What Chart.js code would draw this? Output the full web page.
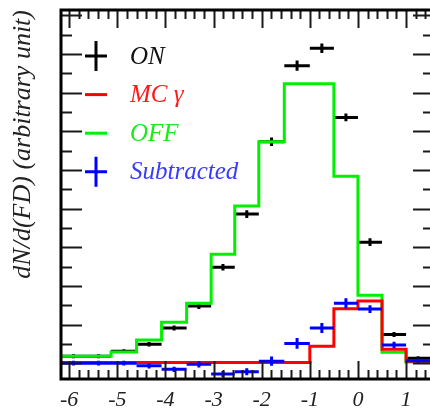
<!DOCTYPE html>
<html>
<head>
<meta charset="utf-8">
<script src="https://cdn.jsdelivr.net/npm/chart.js@4"></script>
<style>
  html, body { margin: 0; padding: 0; background: #fff; overflow: hidden; }
  canvas { display: block; }
</style>
</head>
<body>
<canvas id="fd" width="445" height="413"></canvas>
<script>
// bin edges of the FD histogram
const binEdges = [-6.17, -5.65, -5.13, -4.6, -4.08, -3.56, -3.05, -2.56, -2.06, -1.53, -1.0, -0.5, 0, 0.5, 1.0, 1.5];

// ON data (points with errors)
const onValues = [0.18, 0.18, 0.31, 0.49, 0.91, 1.48, 2.48, 3.86, 5.73, 7.70, 8.15, 6.36, 3.13, 0.74, 0.13];
const onErrors = [0.05, 0.05, 0.05, 0.06, 0.065, 0.08, 0.085, 0.1, 0.11, 0.13, 0.12, 0.1, 0.1, 0.065, 0.05];

// OFF histogram
const offValues = [0.18, 0.18, 0.29, 0.60, 1.06, 1.55, 2.82, 4.07, 5.73, 7.23, 7.23, 4.84, 1.76, 0.28, 0.03];

// MC gamma histogram
const mcValues = [0.02, 0.02, 0.02, 0.02, 0.02, 0.02, 0.02, 0.02, 0.02, 0.02, 0.44, 1.41, 1.61, 0.36, 0.05];

// ON - OFF
const subValues = [0.0, 0.0, 0.0, -0.07, -0.16, -0.03, -0.28, -0.22, 0.05, 0.51, 0.91, 1.55, 1.40, 0.47, 0.06];
const subErrors = [0.06, 0.06, 0.06, 0.07, 0.07, 0.08, 0.08, 0.09, 0.12, 0.14, 0.13, 0.13, 0.1, 0.085, 0.06];

const xTickValues = [-6, -5, -4, -3, -2, -1, 0, 1];
const xMin = -6.17, xMax = 1.58;
const yMin = -0.41, yMax = 9.14;

const seriesNames = ["ON", "MC \u03b3", "OFF", "Subtracted"];
const seriesColors = ["#000000", "#ff0000", "#00f000", "#0000ff"];
const seriesTextColors = ["#111111", "#ff1a1a", "#1ee81e", "#3a3aff"];
const seriesCrossed = [true, false, false, true];

const yTitle = "dN/d(FD) (arbitrary unit)";
const fontFamily = "'Liberation Serif', 'DejaVu Serif', serif";

// outline of a histogram, one point per left edge plus the last right edge
function stepPoints(values) {
  const pts = values.map((v, i) => ({ x: binEdges[i], y: v }));
  pts.push({ x: binEdges[values.length], y: values[values.length - 1] });
  return pts;
}

// horizontal bin-width bars and vertical error bars, broken with null points
function errorBarPoints(values, errors) {
  const pts = [];
  values.forEach((v, i) => {
    const lo = binEdges[i];
    const hi = binEdges[i + 1];
    const c = (lo + hi) / 2;
    pts.push({ x: lo, y: v }, { x: hi, y: v }, { x: hi, y: null });
    pts.push({ x: c, y: v - errors[i] }, { x: c, y: v + errors[i] }, { x: c, y: null });
  });
  return pts;
}

const common = {
  showLine: true,
  pointRadius: 0,
  spanGaps: false,
  borderWidth: 3,
  fill: false,
};

const datasets = [
  Object.assign({}, common, {
    label: seriesNames[3],
    data: errorBarPoints(subValues, subErrors),
    borderColor: seriesColors[3],
    order: 0,
  }),
  Object.assign({}, common, {
    label: seriesNames[1],
    data: stepPoints(mcValues),
    borderColor: seriesColors[1],
    stepped: "before",
    order: 1,
  }),
  Object.assign({}, common, {
    label: seriesNames[2],
    data: stepPoints(offValues),
    borderColor: seriesColors[2],
    stepped: "before",
    order: 2,
  }),
  Object.assign({}, common, {
    label: seriesNames[0],
    data: errorBarPoints(onValues, onErrors),
    borderColor: seriesColors[0],
    order: 3,
  }),
];

// ROOT style frame with inward ticks on all four sides
const framePlugin = {
  id: "frame",
  afterDatasetsDraw(chart) {
    const { ctx, chartArea: a, scales } = chart;
    const x = scales.x;
    const y = scales.y;
    ctx.save();
    ctx.strokeStyle = "#1a1a1a";
    ctx.lineWidth = 2;
    ctx.beginPath();
    for (let i = Math.ceil(xMin / 0.2); i * 0.2 <= xMax; i++) {
      const px = Math.round(x.getPixelForValue(i * 0.2)) + 0.5;
      const len = i % 5 === 0 ? 18 : 9;
      ctx.moveTo(px, a.bottom);
      ctx.lineTo(px, a.bottom - len);
      ctx.moveTo(px, a.top);
      ctx.lineTo(px, a.top + len);
    }
    for (let i = Math.ceil(yMin / 0.5); i * 0.5 <= yMax; i++) {
      const py = Math.round(y.getPixelForValue(i * 0.5)) + 0.5;
      const len = i % 2 === 0 ? 21 : 11;
      ctx.moveTo(a.left, py);
      ctx.lineTo(a.left + len, py);
      ctx.moveTo(a.right, py);
      ctx.lineTo(a.right - len, py);
    }
    ctx.stroke();
    ctx.lineWidth = 3;
    ctx.strokeStyle = "#000";
    ctx.strokeRect(a.left, a.top, a.right - a.left, a.bottom - a.top);
    ctx.restore();
  },
};

// legend box in the upper left corner of the frame
const legendPlugin = {
  id: "rootLegend",
  afterDraw(chart) {
    const { ctx, chartArea: a } = chart;
    ctx.save();
    ctx.font = "italic 25px " + fontFamily;
    ctx.textBaseline = "middle";
    ctx.textAlign = "left";
    seriesNames.forEach((name, i) => {
      const ry = a.top + 46 + i * 38.6;
      const mx = a.left + 35;
      ctx.strokeStyle = seriesColors[i];
      ctx.lineWidth = 3;
      ctx.beginPath();
      ctx.moveTo(mx - 11, ry);
      ctx.lineTo(mx + 11, ry);
      if (seriesCrossed[i]) {
        ctx.moveTo(mx, ry - 15);
        ctx.lineTo(mx, ry + 15);
      }
      ctx.stroke();
      ctx.fillStyle = seriesTextColors[i];
      ctx.fillText(name, a.left + 69, ry + 1);
    });
    ctx.restore();
  },
};

new Chart(document.getElementById("fd"), {
  type: "scatter",
  data: { datasets: datasets },
  options: {
    responsive: false,
    animation: false,
    events: [],
    layout: { padding: { top: 10, right: 11, left: 0, bottom: 0 } },
    plugins: {
      legend: { display: false },
      tooltip: { enabled: false },
    },
    scales: {
      x: {
        type: "linear",
        min: xMin,
        max: xMax,
        grid: { display: false, drawTicks: false },
        border: { display: false },
        afterBuildTicks: (scale) => {
          scale.ticks = xTickValues.map((v) => ({ value: v }));
        },
        afterFit: (scale) => {
          scale.height = 34;
        },
        ticks: {
          autoSkip: false,
          maxRotation: 0,
          padding: 8,
          color: "#222",
          font: { family: fontFamily, size: 22, style: "italic" },
          callback: (v) => String(v),
        },
      },
      y: {
        type: "linear",
        min: yMin,
        max: yMax,
        grid: { display: false, drawTicks: false },
        border: { display: false },
        ticks: { display: false },
        afterFit: (scale) => {
          scale.width = 61;
        },
        title: {
          display: true,
          text: yTitle,
          align: "end",
          color: "#222",
          padding: { top: 8, bottom: 0 },
          font: { family: fontFamily, size: 26, style: "italic" },
        },
      },
    },
  },
  plugins: [framePlugin, legendPlugin],
});
</script>
</body>
</html>
